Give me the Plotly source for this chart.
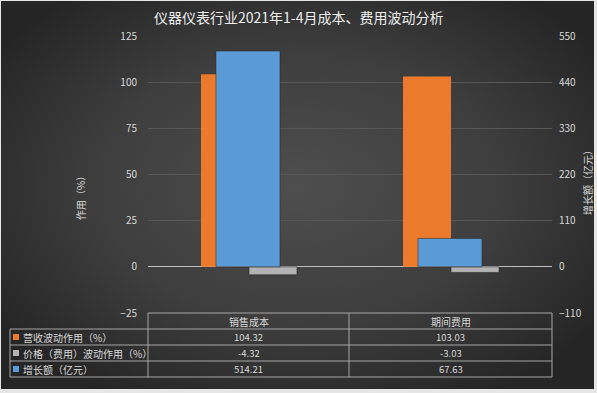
import base64
import plotly.graph_objects as go

# ---- data ----
categories = ["销售成本", "期间费用"]
series_names = ["营收波动作用（%）", "价格（费用）波动作用（%）", "增长额（亿元）"]
revenue_effect = [104.32, 103.03]
price_effect = [-4.32, -3.03]
growth_amount = [514.21, 67.63]
left_ticks = [-25, 0, 25, 50, 75, 100, 125]
right_ticks = [-110, 0, 110, 220, 330, 440, 550]
title_text = "仪器仪表行业2021年1-4月成本、费用波动分析"
left_title = "作用（%）"
right_title = "增长额（亿元）"

# ---- layout geometry (pixels) ----
W, H = 597, 393
ML, MR, MT, MB = 148, 45, 36, 80
PW, PH = W - ML - MR, H - MT - MB


def px(x):
    return (x - ML) / PW


def py(y):
    return 1 - (y - MT) / PH


FONT = "Noto Sans CJK SC"
TXT = "#d9d9d9"
ORANGE = "#ec7a2c"
GREY = "#b3b3b3"
BLUE = "#5b9bd5"
LINE = "#a6a6a6"

xs = list(range(len(categories)))
cat_w = PW / len(categories)
half_w = 48 / cat_w
blue_w = 64 / cat_w

fig = go.Figure()
fig.add_bar(x=xs, y=revenue_effect, name=series_names[0], marker_color=ORANGE,
            width=half_w, offset=-half_w, marker_line_width=0)
fig.add_bar(x=xs, y=price_effect, name=series_names[1], marker_color=GREY,
            width=half_w, offset=0, marker_line=dict(color="rgba(40,40,40,0.6)", width=1))
fig.add_bar(x=xs, y=growth_amount, name=series_names[2], marker_color=BLUE,
            width=blue_w, offset=-blue_w / 2 - 0.005, yaxis="y2",
            marker_line=dict(color="rgba(35,35,35,0.5)", width=1))

# background radial gradient as svg image
svg = f'''<svg xmlns="http://www.w3.org/2000/svg" width="{W}" height="{H}" viewBox="0 0 {W} {H}" preserveAspectRatio="none">
<defs><radialGradient id="g" cx="50%" cy="48%" r="62%">
<stop offset="0%" stop-color="#4e4e4e"/><stop offset="55%" stop-color="#3e3e3e"/><stop offset="100%" stop-color="#252525"/>
</radialGradient></defs>
<rect x="0" y="0" width="{W}" height="{H}" fill="url(#g)"/></svg>'''
src = "data:image/svg+xml;base64," + base64.b64encode(svg.encode()).decode()
bx0, by0, bx1, by1 = 1, 1, 594, 389
fig.add_layout_image(dict(source=src, xref="paper", yref="paper", x=px(bx0), y=py(by0),
                          sizex=px(bx1) - px(bx0), sizey=py(by0) - py(by1),
                          sizing="stretch", layer="below", xanchor="left", yanchor="top"))

shapes = []
annotations = []


def note(text, x, y, size=10, xanchor="center", angle=0, color=TXT):
    annotations.append(dict(text=text, xref="paper", yref="paper", x=px(x), y=py(y),
                            xanchor=xanchor, yanchor="middle", textangle=angle,
                            showarrow=False, font=dict(size=size, color=color, family=FONT)))


# table grid
row_y = [313, 329, 345, 361, 377]
col_x = [10, 148, 349, 552]
for i, yy in enumerate(row_y):
    x0 = col_x[1] if i == 0 else col_x[0]
    shapes.append(dict(type="line", xref="paper", yref="paper", x0=px(x0), x1=px(col_x[3]),
                       y0=py(yy), y1=py(yy), line=dict(color=LINE, width=1)))
for j, xx in enumerate(col_x):
    y0 = row_y[1] if j == 0 else row_y[0]
    shapes.append(dict(type="line", xref="paper", yref="paper", x0=px(xx), x1=px(xx),
                       y0=py(y0), y1=py(row_y[-1]), line=dict(color=LINE, width=1)))

# header
for j, c in enumerate(categories):
    cx = (col_x[j + 1] + col_x[j + 2]) / 2
    note(c, cx, (row_y[0] + row_y[1]) / 2)

rows = [revenue_effect, price_effect, growth_amount]
colors = [ORANGE, GREY, BLUE]
for i, (vals, name, col) in enumerate(zip(rows, series_names, colors)):
    cy = (row_y[i + 1] + row_y[i + 2]) / 2
    shapes.append(dict(type="rect", xref="paper", yref="paper", x0=px(13), x1=px(19),
                       y0=py(cy - 3), y1=py(cy + 3), fillcolor=col, line=dict(width=0)))
    note(name, 21, cy, xanchor="left")
    for j, v in enumerate(vals):
        cx = (col_x[j + 1] + col_x[j + 2]) / 2
        note(f"{v:.2f}", cx, cy, size=9.5)

# title & axis titles
note(title_text, 298, 17, size=14, color="#ededed")
note(left_title, 80, 196, angle=-90)
note(right_title, 587, 180, angle=-90)

fig.update_layout(
    width=W, height=H,
    margin=dict(l=ML, r=MR, t=MT, b=MB, pad=0),
    paper_bgcolor="#e6e6e6",
    plot_bgcolor="rgba(0,0,0,0)",
    barmode="overlay",
    showlegend=False,
    font=dict(family=FONT, color=TXT),
    xaxis=dict(range=[-0.5, len(categories) - 0.5], showticklabels=False, showgrid=False,
               zeroline=False, showline=False, fixedrange=True),
    yaxis=dict(range=[left_ticks[0], left_ticks[-1]], tickvals=left_ticks, showgrid=True,
               gridcolor="#575757", gridwidth=1, zeroline=True, zerolinecolor="#bfbfbf",
               zerolinewidth=1, tickfont=dict(size=10, color=TXT, family=FONT),
               ticklabelstandoff=10, showline=False, automargin=False),
    yaxis2=dict(range=[right_ticks[0], right_ticks[-1]], tickvals=right_ticks, overlaying="y",
                side="right", showgrid=False, zeroline=False, showline=False, automargin=False,
                tickfont=dict(size=10, color=TXT, family=FONT), ticklabelstandoff=6),
    shapes=shapes,
    annotations=annotations,
)

fig.write_html("out.html", config={"displayModeBar": False},
               post_script="document.body.style.margin='0';document.body.style.padding='0';")
